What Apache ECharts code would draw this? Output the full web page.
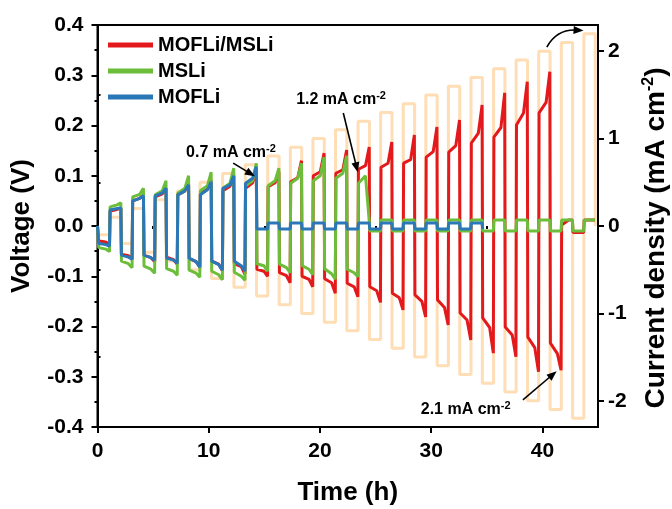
<!DOCTYPE html>
<html><head><meta charset="utf-8">
<script src="https://cdn.jsdelivr.net/npm/echarts@6/dist/echarts.min.js"></script>
<style>html,body{margin:0;padding:0;background:#fff}#c{width:672px;height:509px}</style>
</head><body><div id="c"></div>
<script>
// ---- data ----
// boundaries of the half-cycles (h): each current level = negative half then positive half
const switchTimes = [0.08,1.10,2.12,3.13,4.15,5.16,6.18,7.19,8.21,9.22,10.24,11.25,12.27,13.28,14.30,15.31,16.33,17.34,18.36,19.37,20.39,21.40,22.42,23.43,24.45,25.46,26.48,27.49,28.51,29.52,30.54,31.55,32.57,33.58,34.60,35.61,36.63,37.64,38.66,39.67,40.69,41.70,42.72,43.73,44.75];
// current density levels (mA cm-2)
const currentLevels = [0.1,0.2,0.3,0.4,0.5,0.6,0.7,0.8,0.9,1.0,1.1,1.2,1.3,1.4,1.5,1.6,1.7,1.8,1.9,2.0,2.1,2.2];
// voltage per half-cycle: [start, middle, end] (V)
const redV = [
 [-0.030,-0.032,-0.036],[0.030,0.033,0.036],
 [-0.056,-0.059,-0.066],[0.050,0.055,0.062],
 [-0.058,-0.063,-0.071],[0.058,0.064,0.075],
 [-0.062,-0.067,-0.076],[0.062,0.070,0.085],
 [-0.065,-0.071,-0.082],[0.065,0.073,0.092],
 [-0.070,-0.076,-0.089],[0.070,0.079,0.100],
 [-0.075,-0.081,-0.096],[0.075,0.086,0.110],
 [-0.086,-0.090,-0.100],[0.078,0.086,0.108],
 [-0.093,-0.099,-0.113],[0.088,0.096,0.130],
 [-0.100,-0.106,-0.121],[0.100,0.108,0.145],
 [-0.105,-0.113,-0.134],[0.105,0.112,0.151],
 [-0.114,-0.121,-0.141],[0.113,0.120,0.157],
 [-0.121,-0.129,-0.152],[0.117,0.125,0.167],
 [-0.134,-0.143,-0.167],[0.125,0.132,0.181],
 [-0.137,-0.150,-0.181],[0.137,0.148,0.197],
 [-0.147,-0.162,-0.197],[0.147,0.160,0.211],
 [-0.173,-0.187,-0.227],[0.165,0.185,0.241],
 [-0.183,-0.202,-0.253],[0.177,0.196,0.265],
 [-0.201,-0.217,-0.260],[0.201,0.225,0.287],
 [-0.221,-0.242,-0.290],[0.225,0.246,0.307],
 [-0.233,-0.254,-0.287],[0.002,0.012,0.012],
 [-0.013,-0.013,-0.013],[0.012,0.012,0.012]
];
const greenV = [
 [-0.043,-0.046,-0.051],[0.038,0.042,0.046],
 [-0.070,-0.075,-0.083],[0.058,0.063,0.075],
 [-0.080,-0.086,-0.094],[0.062,0.070,0.090],
 [-0.085,-0.090,-0.098],[0.065,0.075,0.100],
 [-0.088,-0.094,-0.102],[0.070,0.080,0.107],
 [-0.090,-0.097,-0.107],[0.075,0.085,0.115],
 [-0.092,-0.100,-0.108],[0.080,0.090,0.125],
 [-0.075,-0.079,-0.090],[0.080,0.090,0.115],
 [-0.076,-0.083,-0.093],[0.085,0.095,0.125],
 [-0.079,-0.086,-0.097],[0.090,0.100,0.137],
 [-0.085,-0.095,-0.106],[0.095,0.105,0.140],
 [-0.086,-0.093,-0.101],[0.085,0.100,0.010],
 [-0.010,-0.010,-0.010],[0.012,0.012,0.012],
 [-0.010,-0.010,-0.010],[0.012,0.012,0.012],
 [-0.010,-0.010,-0.010],[0.012,0.012,0.012],
 [-0.010,-0.010,-0.010],[0.012,0.012,0.012],
 [-0.010,-0.010,-0.010],[0.012,0.012,0.012],
 [-0.010,-0.010,-0.010],[0.012,0.012,0.012],
 [-0.010,-0.010,-0.010],[0.012,0.012,0.012],
 [-0.010,-0.010,-0.010],[0.012,0.012,0.012],
 [-0.010,-0.010,-0.010],[0.012,0.012,0.012],
 [-0.010,-0.010,-0.010],[0.012,0.012,0.012]
];
const blueV = [
 [-0.035,-0.037,-0.040],[0.032,0.035,0.036],
 [-0.058,-0.062,-0.066],[0.050,0.055,0.060],
 [-0.058,-0.063,-0.068],[0.060,0.066,0.075],
 [-0.064,-0.068,-0.074],[0.062,0.070,0.082],
 [-0.064,-0.071,-0.082],[0.062,0.072,0.088],
 [-0.070,-0.077,-0.088],[0.075,0.082,0.100],
 [-0.070,-0.079,-0.090],[0.085,0.095,0.118],
 [-0.006,-0.006,-0.006],[0.006,0.006,0.006],
 [-0.006,-0.006,-0.006],[0.006,0.006,0.006],
 [-0.006,-0.006,-0.006],[0.006,0.006,0.006],
 [-0.006,-0.006,-0.006],[0.006,0.006,0.006],
 [-0.006,-0.006,-0.006],[0.006,0.006,0.006],
 [-0.006,-0.006,-0.006],[0.006,0.006,0.006],
 [-0.006,-0.006,-0.006],[0.006,0.006,0.006],
 [-0.006,-0.006,-0.006],[0.006,0.006,0.006],
 [-0.006,-0.006,-0.006],[0.006,0.006,0.006],
 [-0.006,-0.006,-0.006],[0.006,0.006,0.006],
 [-0.006,-0.006,-0.006]
];
const blueEnd = 35.0;
const startV = 0.0;
const xMajorTicks = [0,10,20,30,40];
const xMinorTicks = [5,15,25,35];
const rightMajorTicks = [-2,-1,0,1,2];
const rightMinorTicks = [-1.5,-0.5,0.5,1.5];
// annotations (data coordinates: Time h, Voltage V)
const notes = [
  {text:'0.7 mA cm', at:[12.0,0.146]},
  {text:'1.2 mA cm', at:[21.9,0.251]},
  {text:'2.1 mA cm', at:[33.1,-0.366]}
];
const arrows = [
  [[12.2,0.125],[14.15,0.099]],
  [[22.1,0.225],[23.4,0.107]],
  [[38.25,-0.346],[41.28,-0.289]]
];
// curved arrow: start, control, end
const curvedArrow = [[40.4,0.356],[41.3,0.392],[43.7,0.389]];

// ---- build series ----
const FR = [0.03, 0.65, 0.98];
function buildVoltage(trip, tEnd) {
  const pts = [[0, startV]];
  trip.forEach((v, i) => {
    const t0 = switchTimes[i], t1 = switchTimes[i + 1];
    FR.forEach((f, j) => {
      const t = t0 + f * (t1 - t0);
      if (tEnd === undefined || t <= tEnd) pts.push([t, v[j]]);
    });
  });
  return pts;
}
const cur = [[0, 0], [switchTimes[0], 0]];
for (let i = 0; i < switchTimes.length - 1; i++) {
  const lv = currentLevels[Math.floor(i / 2)];
  const val = (i % 2 === 0 ? -1 : 1) * lv;
  cur.push([switchTimes[i], val], [switchTimes[i + 1], val]);
}
cur.push([switchTimes[switchTimes.length - 1], 0]);

const FF = "'Liberation Sans', Arial, sans-serif";
const black = '#000';
const chart = echarts.init(document.getElementById('c'), null, {renderer: 'canvas'});
const lbl = {fontSize: 21, fontWeight: 'bold', color: black, fontFamily: FF};
function nameStyle(fs, pad) {
  return {fontSize: fs, fontWeight: 'bold', color: black, fontFamily: FF, lineHeight: 30, padding: pad || 0,
    rich: {a: {fontSize: fs, fontWeight: 'bold', fontFamily: FF, color: black, lineHeight: 30},
           s: {fontSize: 16, fontWeight: 'bold', fontFamily: FF, color: black, verticalAlign: 'top', lineHeight: 16}}};
}

chart.setOption({
  animation: false,
  backgroundColor: '#fff',
  grid: {left: 97.5, top: 25, width: 500.5, height: 402, show: true, borderColor: black, borderWidth: 2,
         containLabel: false, outerBoundsMode: 'none'},
  legend: {
    data: ['MOFLi/MSLi', 'MSLi', 'MOFLi'], orient: 'vertical', left: 103, top: 30,
    icon: 'rect', itemWidth: 45, itemHeight: 5, itemGap: 6,
    textStyle: {fontSize: 20, fontWeight: 'bold', color: black, fontFamily: FF, lineHeight: 20}
  },
  xAxis: [{
    type: 'value', min: 0, max: 45, gridIndex: 0, position: 'bottom',
    axisLine: {onZero: false, lineStyle: {color: black, width: 2}},
    axisTick: {customValues: xMajorTicks, length: 6, lineStyle: {color: black, width: 2}},
    axisLabel: Object.assign({customValues: xMajorTicks, margin: 14}, lbl),
    splitLine: {show: false},
    name: 'Time (h)', nameLocation: 'middle', nameGap: 51, nameTextStyle: nameStyle(26)
  }, {
    type: 'value', min: 0, max: 45, gridIndex: 0, position: 'bottom',
    axisLine: {show: false},
    axisTick: {customValues: xMinorTicks, length: 3, lineStyle: {color: black, width: 2}},
    axisLabel: {show: false}, splitLine: {show: false}
  }],
  yAxis: [{
    type: 'value', min: -0.4, max: 0.4, interval: 0.1, position: 'left',
    axisLine: {show: true, onZero: false, lineStyle: {color: black, width: 2}},
    axisTick: {length: 6, lineStyle: {color: black, width: 2}},
    minorTick: {show: true, splitNumber: 2, length: 3, lineStyle: {color: black, width: 2}},
    axisLabel: Object.assign({margin: 14, formatter: v => v.toFixed(1)}, lbl),
    splitLine: {show: false}, minorSplitLine: {show: false},
    name: 'Voltage (V)', nameLocation: 'middle', nameGap: 58, nameRotate: 90, nameTextStyle: nameStyle(26)
  }, {
    type: 'value', min: -2.3, max: 2.3, position: 'right',
    axisLine: {show: true, onZero: false, lineStyle: {color: black, width: 2}},
    axisTick: {customValues: rightMajorTicks, length: 6, lineStyle: {color: black, width: 2}},
    axisLabel: Object.assign({customValues: rightMajorTicks, margin: 10, formatter: v => String(v)}, lbl),
    splitLine: {show: false},
    name: '{a|Current density (mA cm}{s|-2}{a|)}', nameLocation: 'middle', nameGap: 43, nameRotate: 90,
    nameTextStyle: nameStyle(28, [0, 24, 0, 0])
  }, {
    type: 'value', min: -2.3, max: 2.3, position: 'right',
    axisLine: {show: false},
    axisTick: {customValues: rightMinorTicks, length: 3, lineStyle: {color: black, width: 2}},
    axisLabel: {show: false}, splitLine: {show: false}
  }],
  series: [
    {name: 'Current', type: 'line', yAxisIndex: 1, data: cur, showSymbol: false, symbol: 'none',
     lineStyle: {color: '#FFDDB5', width: 3}, itemStyle: {color: '#FFDDB5'}, z: 1},
    {name: 'MOFLi/MSLi', type: 'line', yAxisIndex: 0, data: buildVoltage(redV), showSymbol: false, symbol: 'none',
     lineStyle: {color: '#E4191C', width: 3}, itemStyle: {color: '#E4191C'}, z: 2},
    {name: 'MSLi', type: 'line', yAxisIndex: 0, data: buildVoltage(greenV), showSymbol: false, symbol: 'none',
     lineStyle: {color: '#6CBE3A', width: 3}, itemStyle: {color: '#6CBE3A'}, z: 3},
    {name: 'MOFLi', type: 'line', yAxisIndex: 0, data: buildVoltage(blueV, blueEnd), showSymbol: false, symbol: 'none',
     lineStyle: {color: '#2A78B8', width: 3}, itemStyle: {color: '#2A78B8'}, z: 4}
  ]
});

function px(p) { return chart.convertToPixel({xAxisIndex: 0, yAxisIndex: 0}, p); }
function head(tip, from, len, hw) {
  const dx = tip[0] - from[0], dy = tip[1] - from[1];
  const L = Math.hypot(dx, dy) || 1, ux = dx / L, uy = dy / L;
  const bx = tip[0] - ux * len, by = tip[1] - uy * len;
  return {type: 'polygon', z: 101, shape: {points: [tip, [bx - uy * hw, by + ux * hw], [bx + uy * hw, by - ux * hw]]},
    style: {fill: black}};
}
const g = [];
notes.forEach(n => {
  const p = px(n.at);
  g.push({type: 'text', x: p[0], y: p[1], z: 100,
    style: {text: '{b|' + n.text + '}{s|-2}', align: 'center', verticalAlign: 'middle',
      rich: {b: {fontSize: 16, fontWeight: 'bold', fontFamily: FF, fill: black, lineHeight: 18},
             s: {fontSize: 11, fontWeight: 'bold', fontFamily: FF, fill: black, verticalAlign: 'top', lineHeight: 9}}}});
});
arrows.forEach(a => {
  const p0 = px(a[0]), p1 = px(a[1]);
  const dx = p1[0] - p0[0], dy = p1[1] - p0[1], L = Math.hypot(dx, dy);
  const e = [p1[0] - dx / L * 7, p1[1] - dy / L * 7];
  g.push({type: 'line', z: 100, shape: {x1: p0[0], y1: p0[1], x2: e[0], y2: e[1]}, style: {stroke: black, lineWidth: 1.6}});
  g.push(head(p1, p0, 10, 4));
});
(function () {
  const s = px(curvedArrow[0]), c = px(curvedArrow[1]), e = px(curvedArrow[2]);
  const dx = e[0] - c[0], dy = e[1] - c[1], L = Math.hypot(dx, dy);
  const ee = [e[0] - dx / L * 7, e[1] - dy / L * 7];
  g.push({type: 'bezierCurve', z: 100, shape: {x1: s[0], y1: s[1], cpx1: c[0], cpy1: c[1], x2: ee[0], y2: ee[1]},
    style: {stroke: black, lineWidth: 1.6, fill: null}});
  g.push(head(e, c, 10, 4));
})();
chart.setOption({graphic: g});
</script></body></html>
